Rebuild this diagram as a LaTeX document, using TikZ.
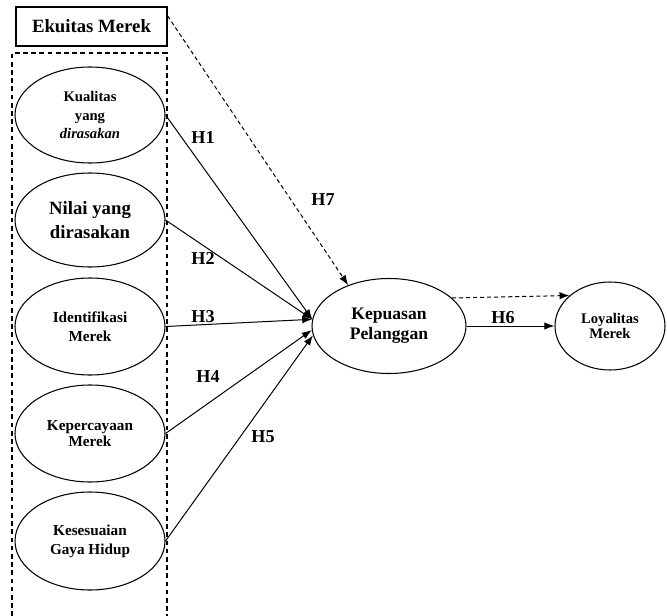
\documentclass[tikz,border=0pt]{standalone}
\usepackage{fontspec}
\setmainfont{Liberation Serif}
\usetikzlibrary{arrows.meta,
                shapes.geometric
            }

\tikzset{
    construct/.style={draw, ellipse, line width=0.9pt, align=center, inner sep=0pt,
                      minimum width=4.5cm},
    hyp/.style={font=\bfseries\fontsize{15.5}{15.5}\selectfont},
    link/.style={-{Latex[length=3mm, width=2.2mm]}, line width=0.85pt},
    dashlink/.style={link, dash pattern=on 3.5pt off 2.5pt}
}

\begin{document}
\begin{tikzpicture}[x=0.03cm, y=-0.03cm]
            \useasboundingbox (0,0) rectangle (667,616);
            \draw[line width=0.9pt, dash pattern=on 4pt off 3pt] (12,616) |- (167,53) -- (167,616);
            \node[draw, line width=0.9pt, minimum width=4.53cm, minimum height=1.17cm,
                  font=\bfseries\fontsize{16}{16}\selectfont] (ekuitas) at (91.5,26.5) {Ekuitas Merek};
            \node[construct, minimum height=2.88cm, font=\bfseries\fontsize{12.5}{15.4}\selectfont] (kualitas) at (90,115) {Kualitas\\yang\\\textit{dirasakan}};
            \node[construct, minimum height=2.82cm, font=\bfseries\fontsize{16}{21}\selectfont] (nilai) at (90,220) {Nilai yang\\dirasakan};
            \node[construct, minimum height=2.91cm, font=\bfseries\fontsize{13}{16}\selectfont] (identifikasi) at (90,326.5) {Identifikasi\\Merek};
            \node[construct, minimum height=2.91cm, font=\bfseries\fontsize{13}{13.5}\selectfont] (kepercayaan) at (90,433.5) {Kepercayaan\\Merek};
            \node[construct, minimum height=2.94cm, font=\bfseries\fontsize{13}{16}\selectfont] (kesesuaian) at (90,541) {Kesesuaian\\Gaya Hidup};
            \node[construct, minimum width=4.62cm, minimum height=2.85cm, font=\bfseries\fontsize{15}{17}\selectfont] (kepuasan) at (389,326) {Kepuasan\\Pelanggan};
            \node[construct, minimum width=3.3cm, minimum height=2.64cm, font=\bfseries\fontsize{12.5}{13}\selectfont] (loyalitas) at (610,326) {Loyalitas\\Merek};
            % hypotheses
            \draw[link] (kualitas.east) -- (kepuasan.175);
            \draw[link] (nilai.east) -- (kepuasan.175);
            \draw[link] (identifikasi.east) -- (kepuasan.175);
            \draw[link] (kepercayaan.east) -- (kepuasan.183);
            \draw[link] (kesesuaian.east) -- (kepuasan.187);
            \draw[dashlink] (ekuitas.8) -- (kepuasan.135);
            \draw[dashlink] (kepuasan.24) -- (loyalitas.143);
            \draw[link] (kepuasan.east) -- (loyalitas.west);
            \node[hyp] (h1) at (203,138) {H1};
            \node[hyp] (h2) at (203,258) {H2};
            \node[hyp] (h3) at (203,317) {H3};
            \node[hyp] (h4) at (208,377) {H4};
            \node[hyp] (h5) at (263,437) {H5};
            \node[hyp] (h6) at (503,318) {H6};
            \node[hyp] (h7) at (323,200) {H7};
        \end{tikzpicture}
\end{document}
